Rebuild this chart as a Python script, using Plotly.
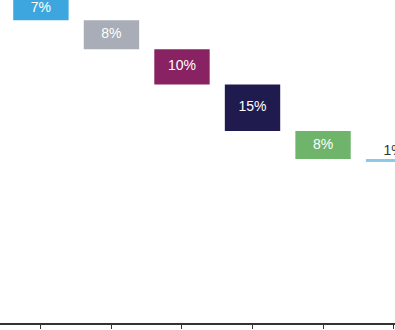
import numpy as np
import plotly.graph_objects as go

# Data
categories = [1, 2, 3, 4, 5, 6]
values = [7.0, 8.5, 10.4, 13.7, 8.2, 0.9]          # bar heights (percentage points)
labels = ["7%", "8%", "10%", "15%", "8%", "1%"]
remainder = 47.35                                   # level below the last step
colors = ["#3DA6DE", "#A8ADB7", "#892262", "#1F1B4E", "#6EB46B", "#8DC8E8"]
text_colors = ["#FFFFFF", "#FFFFFF", "#FFFFFF", "#FFFFFF", "#FFFFFF", "#333333"]
text_pos = ["middle center"] * 5 + ["top center"]

# Waterfall bases: cumulative from the right-hand side downward level
vals = np.array(values)
tops = remainder + np.cumsum(vals[::-1])[::-1]
bases = tops - vals
mids = bases + vals / 2
label_y = np.where(np.array(text_pos) == "top center", tops, mids)

fig = go.Figure()
fig.add_trace(
    go.Bar(
        x=categories,
        y=values,
        base=bases,
        width=0.785,
        marker=dict(color=colors, line=dict(width=0)),
        cliponaxis=False,
        hoverinfo="skip",
    )
)
fig.add_trace(
    go.Scatter(
        x=categories,
        y=label_y,
        mode="text",
        text=labels,
        textposition=text_pos,
        textfont=dict(color=text_colors, size=14, family="Liberation Sans, Arial, sans-serif"),
        cliponaxis=False,
        hoverinfo="skip",
    )
)

fig.update_layout(
    width=395,
    height=330,
    margin=dict(l=0, r=0, t=0, b=7),
    paper_bgcolor="white",
    plot_bgcolor="white",
    showlegend=False,
    xaxis=dict(
        range=[0.42, 6.02],
        tickvals=categories,
        showticklabels=False,
        ticks="outside",
        ticklen=4,
        tickwidth=1,
        tickcolor="#333333",
        showline=True,
        linecolor="#333333",
        linewidth=1.5,
        showgrid=False,
        zeroline=False,
    ),
    yaxis=dict(
        range=[0, 95],
        visible=False,
        showgrid=False,
        zeroline=False,
    ),
)

fig.write_html("out.html")
